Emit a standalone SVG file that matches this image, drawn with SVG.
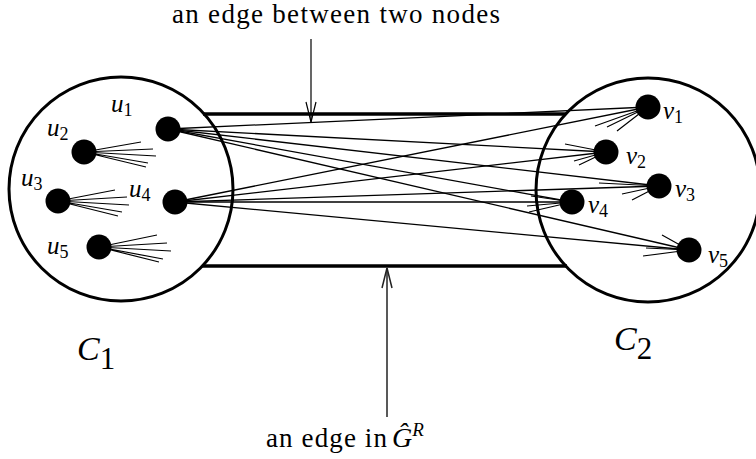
<svg xmlns="http://www.w3.org/2000/svg" width="756" height="459" viewBox="0 0 756 459" font-family="Liberation Serif">
<defs>
  <circle id="dot" r="12.5" fill="#000"/>
</defs>
<rect width="756" height="459" fill="#fff"/>
<g id="connectors" fill="none" stroke="#000">
  <g id="band" stroke-width="3.5">
    <line x1="203" y1="114" x2="566" y2="114"/>
    <line x1="202" y1="266" x2="567" y2="266"/>
  </g>
  <g id="edges" stroke-width="1.3">
    <line x1="168" y1="129" x2="648" y2="107"/>
    <line x1="168" y1="129" x2="606" y2="152"/>
    <line x1="168" y1="129" x2="659" y2="186"/>
    <line x1="168" y1="129" x2="572" y2="202"/>
    <line x1="168" y1="129" x2="689" y2="250"/>
    <line x1="175" y1="202" x2="648" y2="107"/>
    <line x1="175" y1="202" x2="606" y2="152"/>
    <line x1="175" y1="202" x2="659" y2="186"/>
    <line x1="175" y1="202" x2="572" y2="202"/>
    <line x1="175" y1="202" x2="689" y2="250"/>
  </g>
  <g id="stubs" stroke-width="1.2">
    <path d="M84 152L141 142M84 152L153 149M84 152L156 156M84 152L148 163M84 152L146 167"/>
    <path d="M58 201L115 190M58 201L127 197M58 201L129 205M58 201L122 212M58 201L118 216"/>
    <path d="M99 247L157 235M99 247L167 243M99 247L171 251M99 247L163 259M99 247L159 262"/>
    <path d="M648 107L595 126M648 107L607 127M648 107L617 131"/>
    <path d="M606 152L565 144M606 152L574 161M606 152L579 165"/>
    <path d="M659 186L599 183M659 186L622 194M659 186L632 200"/>
    <path d="M572 202L531 196M572 202L527 206M572 202L529 212"/>
    <path d="M689 250L662 235M689 250L646 248M689 250L643 256"/>
  </g>
  <g id="annotation-top" stroke-width="1.2">
    <line x1="311" y1="39" x2="311" y2="122"/>
    <polyline points="306,102 311,122 316,102"/>
  </g>
  <g id="annotation-bottom" stroke="#222" stroke-width="1.5">
    <line x1="387" y1="417" x2="387" y2="268"/>
    <polyline points="382,288 387,268 392,288"/>
  </g>
</g>
<g id="C1">
  <circle cx="121" cy="189" r="112" fill="none" stroke="#000" stroke-width="3"/>
  <text font-family="Liberation Serif" font-style="italic" font-size="34" x="77" y="360">C<tspan font-style="normal" font-size="31" dy="9">1</tspan></text>
</g>
<g id="C2">
  <circle cx="648" cy="190" r="112" fill="none" stroke="#000" stroke-width="3"/>
  <text font-family="Liberation Serif" font-style="italic" font-size="34" x="614" y="350">C<tspan font-style="normal" font-size="31" dy="9">2</tspan></text>
</g>
<g id="u1"><use href="#dot" x="168" y="129"/><text font-family="Liberation Serif" font-style="italic" font-size="25" x="111" y="112">u<tspan font-style="normal" font-size="18" dy="4">1</tspan></text></g>
<g id="u2"><use href="#dot" x="84" y="152"/><text font-family="Liberation Serif" font-style="italic" font-size="25" x="47" y="136">u<tspan font-style="normal" font-size="18" dy="4">2</tspan></text></g>
<g id="u3"><use href="#dot" x="58" y="201"/><text font-family="Liberation Serif" font-style="italic" font-size="25" x="21" y="186">u<tspan font-style="normal" font-size="18" dy="4">3</tspan></text></g>
<g id="u4"><use href="#dot" x="175" y="202"/><text font-family="Liberation Serif" font-style="italic" font-size="25" x="129" y="197">u<tspan font-style="normal" font-size="18" dy="4">4</tspan></text></g>
<g id="u5"><use href="#dot" x="99" y="247"/><text font-family="Liberation Serif" font-style="italic" font-size="25" x="47" y="254">u<tspan font-style="normal" font-size="18" dy="4">5</tspan></text></g>
<g id="v1"><use href="#dot" x="648" y="107"/><text font-family="Liberation Serif" font-style="italic" font-size="25" x="663" y="119">v<tspan font-style="normal" font-size="18" dy="4">1</tspan></text></g>
<g id="v2"><use href="#dot" x="606" y="152"/><text font-family="Liberation Serif" font-style="italic" font-size="25" x="626" y="164">v<tspan font-style="normal" font-size="18" dy="4">2</tspan></text></g>
<g id="v3"><use href="#dot" x="659" y="186"/><text font-family="Liberation Serif" font-style="italic" font-size="25" x="675" y="197">v<tspan font-style="normal" font-size="18" dy="4">3</tspan></text></g>
<g id="v4"><use href="#dot" x="572" y="202"/><text font-family="Liberation Serif" font-style="italic" font-size="25" x="588" y="213">v<tspan font-style="normal" font-size="18" dy="4">4</tspan></text></g>
<g id="v5"><use href="#dot" x="689" y="250"/><text font-family="Liberation Serif" font-style="italic" font-size="25" x="708" y="263">v<tspan font-style="normal" font-size="18" dy="4">5</tspan></text></g>
<g id="labels">
  <text font-family="Liberation Serif" font-size="27" x="172" y="23" textLength="328" lengthAdjust="spacing">an edge between two nodes</text>
  <text font-family="Liberation Serif" font-size="27" x="266" y="447" textLength="121" lengthAdjust="spacing">an edge in</text>
  <text font-family="Liberation Serif" font-style="italic" font-size="28" x="392" y="447">&#284;<tspan font-size="19" dy="-11">R</tspan></text>
</g>
</svg>
